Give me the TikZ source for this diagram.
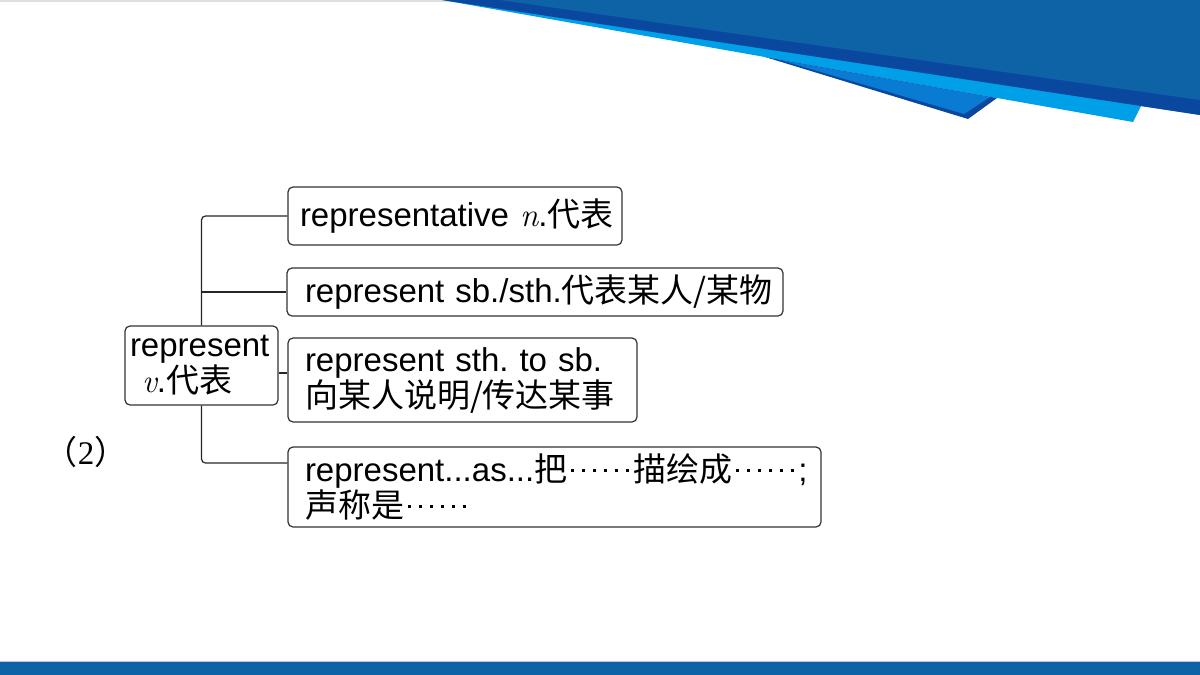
\documentclass[tikz,border=0pt]{standalone}
\usepackage{fontspec}
\setmainfont{Liberation Sans}
\newfontfamily\cjk{Noto Sans CJK SC}
\newfontfamily\tms{Liberation Serif}
\newfontfamily\lmr{Latin Modern Roman}
\newcommand\zh[1]{{\cjk #1}}
\newcommand\zhdot{\hbox to .3333em{\hss\raisebox{.3em}{\rule{.085em}{.085em}}\hss}}
\newcommand\zhdots{\zhdot\zhdot\zhdot\zhdot\zhdot\zhdot}
\definecolor{mainblue}{HTML}{0E62A6}
\definecolor{darkstripe}{HTML}{0A48A0}
\definecolor{lightblue}{HTML}{00A0E9}
\definecolor{medblue}{HTML}{0A7BD2}
\definecolor{edge}{HTML}{333333}
\frenchspacing
\begin{document}
\begin{tikzpicture}[x=1pt,y=-1pt,
  box/.style={draw=edge, line width=1.2pt, rounded corners=5pt, fill=white,
    align=left, font=\fontsize{33}{36}\selectfont\frenchspacing, inner ysep=0pt},
  link/.style={draw=black!85, line width=1.2pt}]
\useasboundingbox (0,0) rectangle (1200,675);
% background decorations
\fill[gray!25] (0,0) rectangle (1200,2);
\fill[lightblue] (442,0) -- (1133,122) -- (1141,106) -- (1200,115) -- (1200,0) -- cycle;
\fill[darkstripe] (442,0) -- (1200,115) -- (1200,0) -- cycle;
\fill[mainblue] (500,0) -- (1200,100) -- (1200,0) -- cycle;
\fill[darkstripe] (765,57) -- (968,119) -- (997,98) -- cycle;
\fill[medblue] (780,60) -- (964,114) -- (990,97) -- cycle;
\fill[blue!25] (0,661) rectangle (1200,662);
\fill[mainblue] (0,662) rectangle (1200,675);
% nodes
\node[box, text width=143pt, inner xsep=5pt, minimum height=79pt] (root) at (201.5,365.5)
  {\mbox{represent}\\\hspace*{12pt}{\lmr\itshape v}.\zh{代表}};
\node[box, text width=310pt, inner xsep=12pt, minimum height=58pt] (b1) at (455,216)
  {\mbox{representative {\lmr\itshape n}.\zh{代表}}};
\node[box, text width=460pt, inner xsep=18pt, minimum height=48pt] (b2) at (535,292)
  {\mbox{represent sb./sth.\zh{代表某人/某物}}};
\node[box, text width=315pt, inner xsep=17pt, minimum height=84pt] (b3) at (462.5,380)
  {\mbox{represent sth. to sb.}\\\mbox{\zh{向某人说明/传达某事}}};
\node[box, text width=499pt, inner xsep=17pt, minimum height=80pt] (b4) at (554.5,487)
  {\mbox{represent...as...\zh{把}\zhdots\zh{描绘成}\zhdots;}\\\mbox{\zh{声称是}\zhdots}};
\node[font=\fontsize{33}{34}\selectfont] (lbl) at (86,452) {\zh{（}\tms 2\zh{）}};
% connectors
\draw[link, rounded corners=4pt] (root.north) |- (b1.west);
\draw[link] (root.north |- b2.west) -- (b2.west);
\draw[link] ([yshift=-7.5pt]root.east) -- ([yshift=7pt]b3.west);
\draw[link, rounded corners=4pt] (root.south) |- ([yshift=24pt]b4.west);
\end{tikzpicture}
\end{document}
